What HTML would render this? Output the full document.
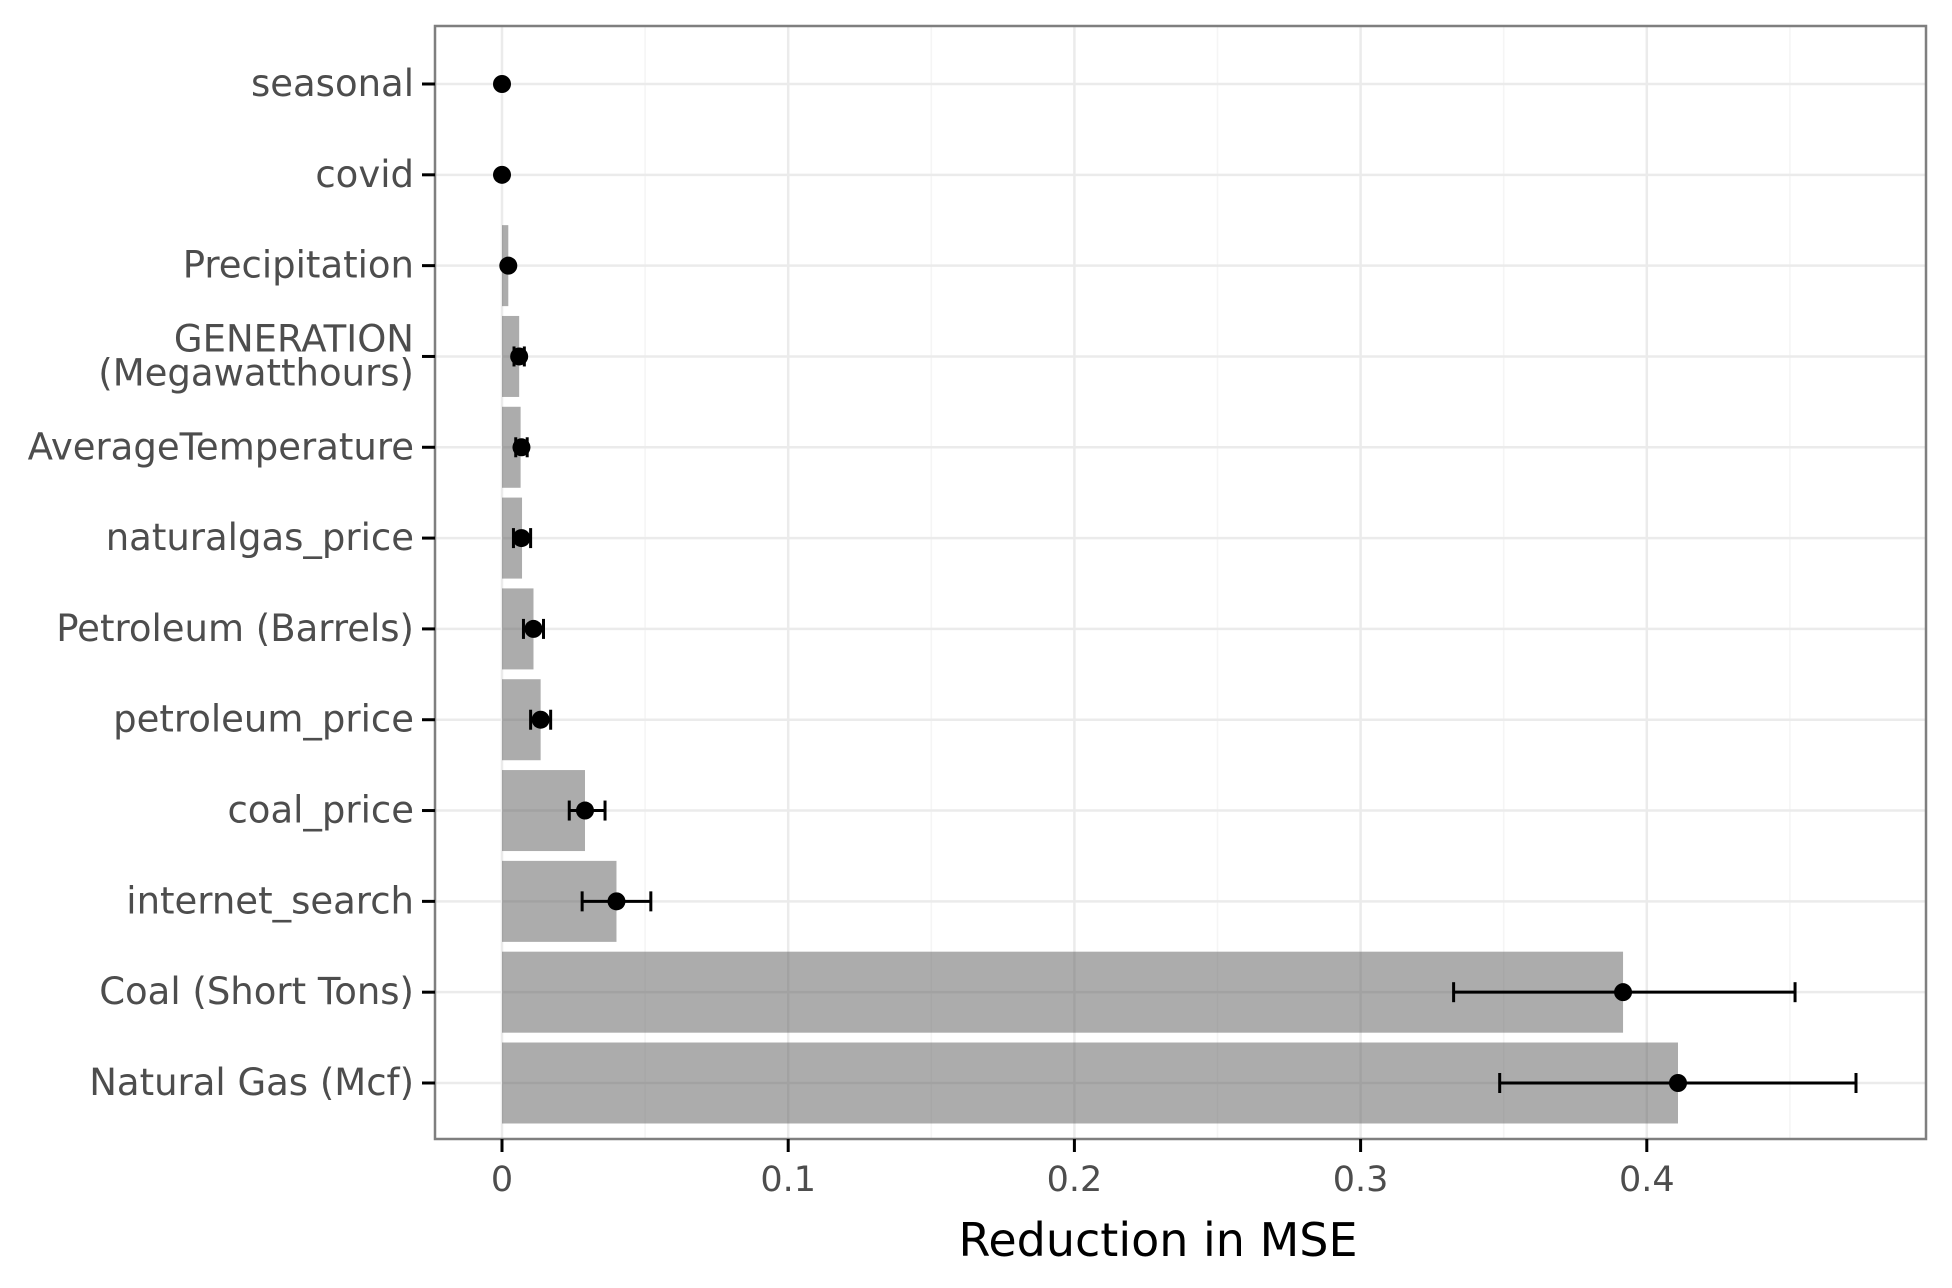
<!DOCTYPE html>
<html><head><meta charset="utf-8"><style>
html,body{margin:0;padding:0;background:#fff;}
svg{display:block;font-family:"DejaVu Sans","Liberation Sans",sans-serif;}
</style></head><body>
<svg id="chart" width="1952" height="1288" viewBox="0 0 1952 1288" xmlns="http://www.w3.org/2000/svg"></svg>
<script>
const categories = ["seasonal","covid","Precipitation","GENERATION\n(Megawatthours)","AverageTemperature","naturalgas_price","Petroleum (Barrels)","petroleum_price","coal_price","internet_search","Coal (Short Tons)","Natural Gas (Mcf)"];
const barValues = [0,0,0.0022,0.006,0.0065,0.007,0.011,0.0135,0.029,0.040,0.3917,0.4109];
const pointValues = [0,0,0.0022,0.006,0.0068,0.0068,0.011,0.0135,0.029,0.040,0.3917,0.4109];
const errLow = [0,0,0.0022,0.0042,0.0048,0.004,0.0075,0.01,0.0235,0.028,0.3325,0.3486];
const errHigh = [0,0,0.0022,0.0078,0.0088,0.0100,0.0145,0.017,0.036,0.052,0.4518,0.4731];
const xTicks = [0,0.1,0.2,0.3,0.4];
const xTickLabels = ["0","0.1","0.2","0.3","0.4"];

const svg = document.getElementById('chart');
const NS = 'http://www.w3.org/2000/svg';
const P = {l:435,t:26,r:1926,b:1139};
const x0 = 502, xPer = 2862;
const xs = v => x0 + v*xPer;
const y0 = 84, yStep = (1083-84)/11;
const ys = i => y0 + i*yStep;
function mk(tag, attrs, parent){const e=document.createElementNS(NS,tag);for(const k in attrs)e.setAttribute(k,attrs[k]);(parent||svg).appendChild(e);return e;}

mk('rect',{x:P.l,y:P.t,width:P.r-P.l,height:P.b-P.t,fill:'#fff'});
for(let v=0.05; xs(v)<P.r; v+=0.1){
  const g=mk('line',{x1:xs(v),x2:xs(v),y1:P.t,y2:P.b,stroke:'#f5f5f5','stroke-width':1.5});
  
  
}
xTicks.forEach(v=>{
  const g=mk('line',{x1:xs(v),x2:xs(v),y1:P.t,y2:P.b,stroke:'#ebebeb','stroke-width':2.5});
  
  
});
categories.forEach((c,i)=>{
  const g=mk('line',{x1:P.l,x2:P.r,y1:ys(i),y2:ys(i),stroke:'#ebebeb','stroke-width':2.5});
  
  
});
const bh = 81;
categories.forEach((c,i)=>{
  const w = xs(barValues[i])-xs(0);
  if(w>0){
    const b=mk('rect',{x:xs(0),y:ys(i)-bh/2,width:w,height:bh,fill:'#595959','fill-opacity':0.5});
    
    
  }
});
categories.forEach((c,i)=>{
  const y=ys(i), a=xs(errLow[i]), b=xs(errHigh[i]);
  if(b-a>0.5){
    const g=mk('g',{stroke:'#000','stroke-width':3});
    
    
    mk('line',{x1:a,x2:b,y1:y,y2:y},g);
    mk('line',{x1:a,x2:a,y1:y-10,y2:y+10},g);
    mk('line',{x1:b,x2:b,y1:y-10,y2:y+10},g);
  }
  const p=mk('circle',{cx:xs(pointValues[i]),cy:y,r:9,fill:'#000'});
  
  
});
const border=mk('rect',{x:P.l,y:P.t,width:P.r-P.l,height:P.b-P.t,fill:'none',stroke:'#7f7f7f','stroke-width':2.5});


categories.forEach((c,i)=>{
  const y=ys(i);
  mk('line',{x1:P.l-13,x2:P.l,y1:y,y2:y,stroke:'#000','stroke-width':3});
  const t=mk('text',{x:414,y:y+12,'text-anchor':'end','font-size':37,fill:'#4d4d4d'});
  
  
  const lines=c.split('\n');
  if(lines.length>1){
    lines.forEach((ln,k)=>{mk('tspan',{x:414,y:y+12+(k-0.5)*34},t).textContent=ln;});
  } else t.textContent=c;
});
xTicks.forEach((v,i)=>{
  mk('line',{x1:xs(v),x2:xs(v),y1:P.b,y2:P.b+13,stroke:'#000','stroke-width':3});
  const t=mk('text',{x:xs(v),y:1191,'text-anchor':'middle','font-size':35,fill:'#4d4d4d'});
  
  
  t.textContent=xTickLabels[i];
});
const tt=mk('text',{x:1158,y:1256,'text-anchor':'middle','font-size':46,fill:'#000'});


tt.textContent='Reduction in MSE';
</script>
</body></html>
